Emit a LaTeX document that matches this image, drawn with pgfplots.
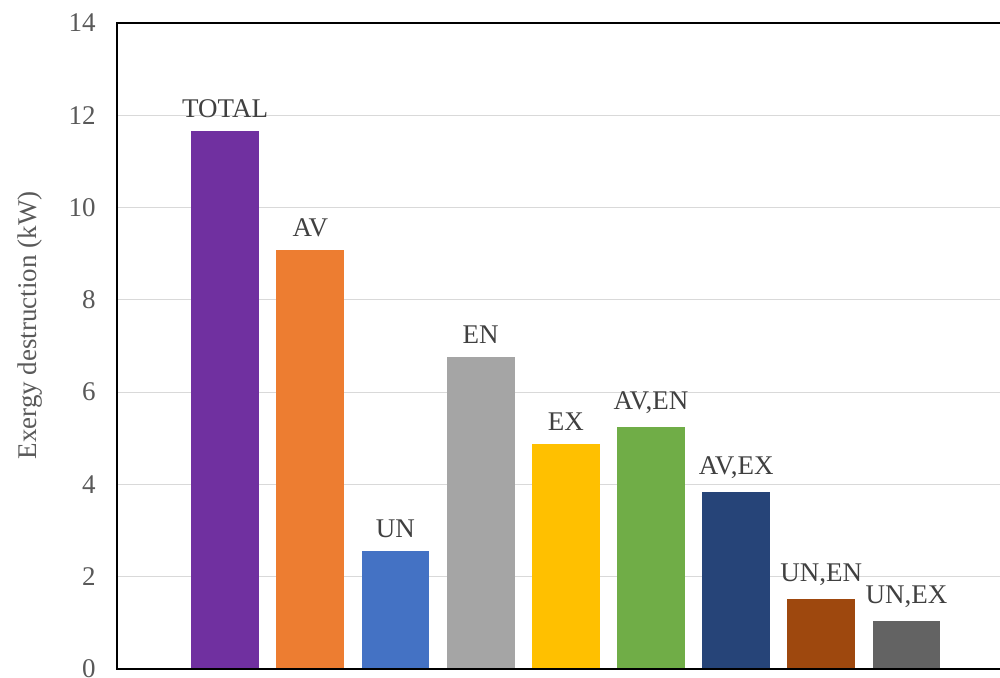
\documentclass[border=0pt]{standalone}
\usepackage{pgfplots}
\pgfplotsset{compat=1.18}
\usepackage{fontspec}
\setmainfont{Liberation Serif}
\newcommand{\lab}{\fontsize{13pt}{16pt}\selectfont}
\definecolor{cTot}{HTML}{7030A0}
\definecolor{cAV}{HTML}{ED7D31}
\definecolor{cUN}{HTML}{4472C4}
\definecolor{cEN}{HTML}{A5A5A5}
\definecolor{cEX}{HTML}{FFC000}
\definecolor{cAVEN}{HTML}{70AD47}
\definecolor{cAVEX}{HTML}{264478}
\definecolor{cUNEN}{HTML}{9E480E}
\definecolor{cUNEX}{HTML}{636363}
\definecolor{tickgray}{HTML}{595959}
\definecolor{labgray}{HTML}{404040}
\begin{document}
\begin{tikzpicture}
\begin{axis}[
  name=ax,
  at={(56.3pt,4.3pt)}, anchor=south west,
  scale only axis,
  width=441.7pt, height=311pt,
  xmin=-1.27, xmax=9.5,
  ymin=0, ymax=14,
  ytick={0,2,4,6,8,10,12,14},
  yticklabels={0,2,4,6,8,10,12,14},
  xtick=\empty,
  ymajorgrids,
  grid style={draw=black!15, line width=0.6pt},
  axis line style={draw=none},
  major tick length=0pt,
  tick label style={font=\lab, text=tickgray},
  yticklabel style={xshift=-6.7pt},
  ylabel={Exergy destruction (kW)},
  every axis y label/.style={at={(axis description cs:-0.0948,0.532)}, rotate=90, anchor=center, font=\lab, text=tickgray},
  ybar, bar width=32.7pt, bar shift=0pt,
  point meta=explicit symbolic,
  nodes near coords,
  every node near coord/.append style={font=\lab, text=labgray, anchor=south, yshift=2.9pt},
]
\addplot[fill=cTot, draw=none] coordinates {(0,11.66) [TOTAL]};
\addplot[fill=cAV, draw=none] coordinates {(1,9.08) [AV]};
\addplot[fill=cUN, draw=none] coordinates {(2,2.56) [UN]};
\addplot[fill=cEN, draw=none] coordinates {(3,6.76) [EN]};
\addplot[fill=cEX, draw=none] coordinates {(4,4.88) [EX]};
\addplot[fill=cAVEN, draw=none] coordinates {(5,5.25) [{AV,EN}]};
\addplot[fill=cAVEX, draw=none] coordinates {(6,3.84) [{AV,EX}]};
\addplot[fill=cUNEN, draw=none] coordinates {(7,1.52) [{UN,EN}]};
\addplot[fill=cUNEX, draw=none] coordinates {(8,1.04) [{UN,EX}]};
\end{axis}
\draw[black, line width=0.963pt] (ax.north east) -- (ax.north west) -- (ax.south west) -- (ax.south east);
\pgfresetboundingbox
\useasboundingbox (0,0) rectangle (481.5pt,326.4pt);
\end{tikzpicture}
\end{document}
